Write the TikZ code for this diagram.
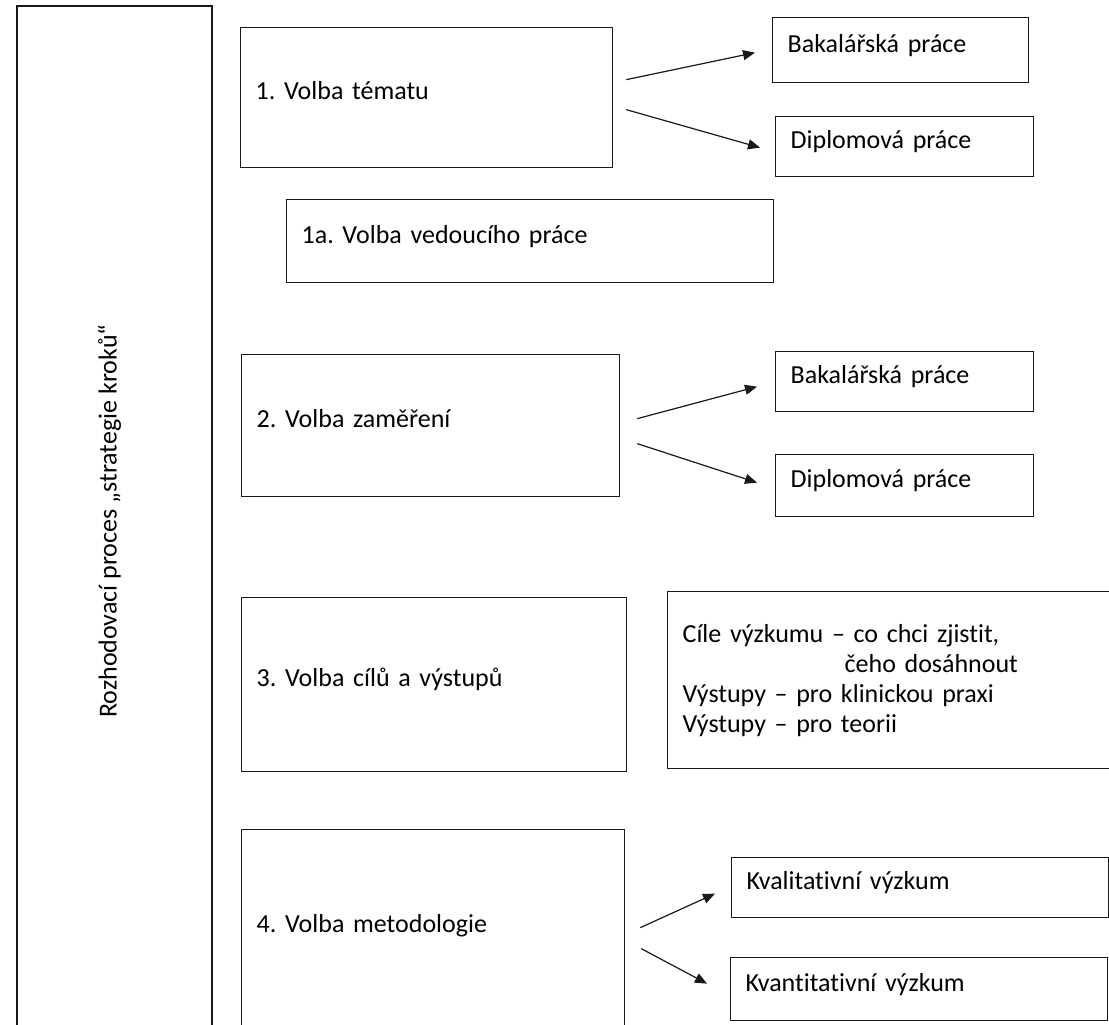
\documentclass[tikz,border=0pt]{standalone}
\usepackage{fontspec}
\setmainfont{Carlito}[Ligatures=NoCommon]
\usetikzlibrary{arrows.meta}
\frenchspacing

\begin{document}
\begin{tikzpicture}[x=1pt, y=-1pt, font=\fontsize{26}{30}\selectfont,
  frame/.style={draw=black!90, line width=1.3pt, anchor=north west, align=left, inner xsep=15pt, inner ysep=0pt},
  box/.style={frame, text height=18pt, text depth=14pt},
  arr/.style={-{Triangle[length=12pt,width=10pt]}, line width=1.2pt, black!90}]
  \useasboundingbox (0,0) rectangle (1109,1025);

  \node[box, anchor=center, rotate=90, minimum width=1030pt, minimum height=195pt, inner sep=0pt] (proces) at (114.5,521) {Rozhodovací proces „strategie kroků“};

  \node[box, text width=342pt, minimum height=140pt] (volba1) at (240,27) {1. Volba tématu};
  \node[box, text width=226pt, minimum height=65pt] (bak1) at (772,17) {Bakalářská práce};
  \node[box, text width=228pt, minimum height=60pt] (dip1) at (775,116) {Diplomová práce};
  \draw[arr] ([shift={(13,-18)}]volba1.east) -- ([shift={(-17,2.5)}]bak1.west);
  \draw[arr] ([shift={(13,12)}]volba1.east) -- ([shift={(-15,1)}]dip1.west);

  \node[box, text width=457pt, minimum height=83pt] (vedouci) at (286,199) {1a. Volba vedoucího práce};

  \node[box, text width=348pt, minimum height=142pt] (volba2) at (241,354) {2. Volba zaměření};
  \node[box, text width=228pt, minimum height=60pt] (bak2) at (775,351) {Bakalářská práce};
  \node[box, text width=228pt, minimum height=62pt] (dip2) at (775,454) {Diplomová práce};
  \draw[arr] ([shift={(17,-7)}]volba2.east) -- ([shift={(-18,5)}]bak2.west);
  \draw[arr] ([shift={(17,18)}]volba2.east) -- ([shift={(-18,-3)}]dip2.west);

  \node[box, text width=355pt, minimum height=174pt] (volba3) at (241,597) {3. Volba cílů a výstupů};
  \node[frame, text width=430pt, minimum height=177pt] (cile) at (667,591)
    {Cíle výzkumu – co chci zjistit,\\\hspace*{162pt}čeho dosáhnout\\Výstupy – pro klinickou praxi\\Výstupy – pro teorii};

  \node[box, text width=353pt, minimum height=202pt] (volba4) at (241,829) {4. Volba metodologie};
  \node[box, text width=347pt, minimum height=60pt] (kval) at (731,857) {Kvalitativní výzkum};
  \node[box, text width=347pt, minimum height=63pt] (kvant) at (730,957) {Kvantitativní výzkum};
  \draw[arr] ([shift={(15,-3)}]volba4.east) -- ([shift={(-16,6)}]kval.west);
  \draw[arr] ([shift={(16,18)}]volba4.east) -- ([shift={(-23,-5.5)}]kvant.west);
\end{tikzpicture}
\end{document}
